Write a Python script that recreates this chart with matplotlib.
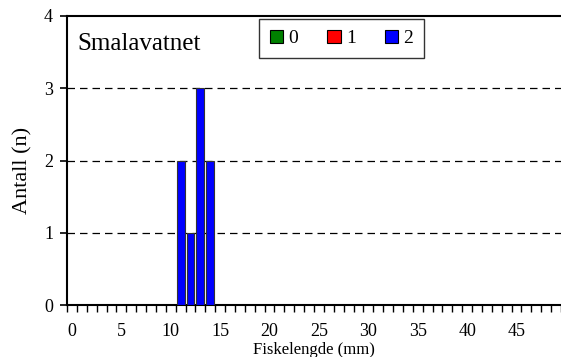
import numpy as np
import matplotlib
matplotlib.use("Agg")
import matplotlib.pyplot as plt
from matplotlib.patches import Patch

plt.rcParams['font.family'] = ['Liberation Serif', 'DejaVu Serif']

# fiskelengde (mm), one category per mm
lengths = list(range(50))
age_groups = ["0", "1", "2"]
colors = ["#008000", "#ff0000", "#0000ff"]

counts_0 = [0] * 50
counts_1 = [0] * 50
counts_2 = [0, 0, 0, 0, 0, 0, 0, 0, 0, 0,
            0, 2, 1, 3, 2, 0, 0, 0, 0, 0,
            0, 0, 0, 0, 0, 0, 0, 0, 0, 0,
            0, 0, 0, 0, 0, 0, 0, 0, 0, 0,
            0, 0, 0, 0, 0, 0, 0, 0, 0, 0]
series = [counts_0, counts_1, counts_2]

fig = plt.figure(figsize=(5.61, 3.57), dpi=100)
ax = fig.add_axes([67 / 561, 52 / 357, 494 / 561, 289 / 357])

x = np.array(lengths)
bottom = np.zeros(len(x))
for vals, col in zip(series, colors):
    v = np.array(vals, dtype=float)
    m = v > 0
    ax.bar(x[m], v[m], width=0.8, bottom=bottom[m], color=col,
           edgecolor="#333333", linewidth=0.8, zorder=3)
    bottom += v

for yv in [1, 2, 3]:
    ax.axhline(yv, color="black", linewidth=0.9, linestyle=(0, (6, 4)), zorder=1)

ax.set_xlim(-0.5, 48.9)
ax.set_ylim(0, 4)

ax.set_yticks([0, 1, 2, 3, 4])
ax.tick_params(axis="y", direction="out", length=5, width=1.2, pad=5, labelsize=13)

# category boundaries get the tick marks, labels sit under the categories
ax.set_xticks(np.arange(-0.5, 50, 1.0), minor=True)
ax.set_xticks([0, 5, 10, 15, 20, 25, 30, 35, 40, 45])
ax.tick_params(axis="x", which="major", length=0, pad=13, labelsize=13)
ax.tick_params(axis="x", which="minor", direction="out", length=5, width=1.0)

for s in ["left", "bottom", "top"]:
    ax.spines[s].set_linewidth(1.5)
ax.spines["right"].set_visible(False)

ax.set_ylabel("Antall (n)", fontsize=16)
ax.yaxis.set_label_coords(-0.069, 0.465)
ax.set_xlabel("Fiskelengde (mm)", fontsize=12)
ax.xaxis.set_label_coords(0.5, -0.128)

ax.text(0.02, 0.94, "Smalavatnet", transform=ax.transAxes, fontsize=18,
        va="top", ha="left")

handles = [Patch(facecolor=c, edgecolor="black", linewidth=0.8) for c in colors]
leg = ax.legend(handles, age_groups, ncol=3, loc="upper left",
                bbox_to_anchor=(0.389, 0.99), fontsize=14, frameon=True,
                fancybox=False, handlelength=0.7, handleheight=0.7,
                handletextpad=0.25, columnspacing=1.5, borderpad=0.55,
                borderaxespad=0)
leg.get_frame().set_edgecolor("black")
leg.get_frame().set_linewidth(1.0)

fig.savefig("out.png", dpi=100)
